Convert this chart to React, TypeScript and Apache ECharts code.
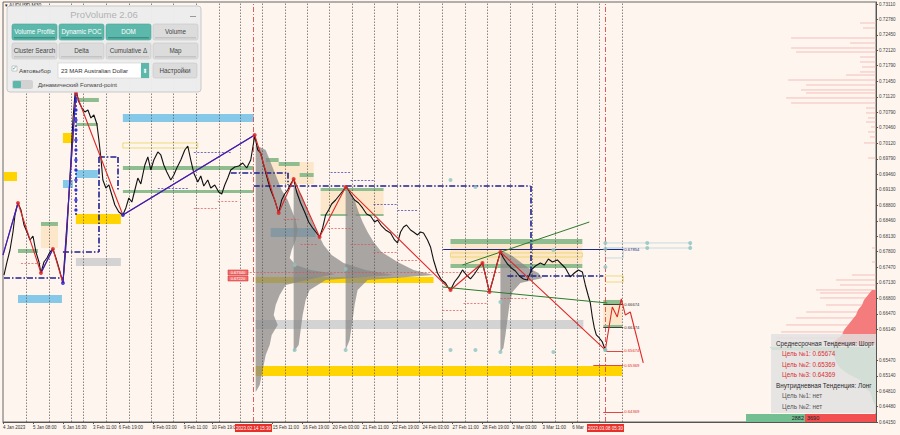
import { useEffect, useRef } from "react";
import * as echarts from "echarts";

const BG = "#fdf5ee";
const X_END = 876;

// price scale (right axis)
const yTicks = [0.7311, 0.7278, 0.7245, 0.7212, 0.7179, 0.7145, 0.7112, 0.7079, 0.7046, 0.7012, 0.6979, 0.6946, 0.6913, 0.688, 0.6846, 0.6813, 0.678, 0.6747, 0.6713, 0.668, 0.6647, 0.6614, 0.6547, 0.6514, 0.6481, 0.6448, 0.6415];

// time scale (bar positions -> labels)
const xTickPos = [2, 32, 62, 92, 118, 152, 183, 211, 272, 302, 332, 362, 392, 422, 452, 482, 512, 542, 572];
const xTickLabels = ["4 Jan 2023", "5 Jan 08:00", "6 Jan 16:30", "3 Feb 11:00", "6 Feb 19:00", "8 Feb 03:00", "9 Feb 11:00", "10 Feb 19:00", "15 Feb 11:00", "16 Feb 19:00", "20 Feb 03:00", "21 Feb 11:00", "22 Feb 19:00", "24 Feb 03:00", "27 Feb 11:00", "28 Feb 19:00", "2 Mar 03:00", "3 Mar 11:00", "6 Mar"];
const sessionX = [25, 48, 70, 82, 105, 128, 150, 172, 195, 218, 240, 262, 285, 307, 329, 352, 374, 397, 419, 442, 465, 487, 510, 532, 555, 577, 599, 622];
const markerX = [253, 605];
const markerLabels = ["2023.02.14 15:30", "2023.03.08 05:30"];
const lastPrice = 0.65768;

// AUDUSD closes
const barX = [
  3, 6, 9, 12, 14, 17, 20, 23, 26, 29,
  32, 35, 38, 40, 43, 46, 49, 52, 55, 58,
  62, 64, 66, 68, 70, 72, 74, 75, 78, 81,
  84, 87, 90, 93, 96, 98, 100, 102, 105, 108,
  111, 114, 118, 122, 125, 128, 131, 134, 137, 140,
  144, 147, 150, 153, 157, 160, 163, 166, 170, 173,
  176, 180, 184, 187, 190, 193, 197, 200, 203, 207,
  210, 214, 218, 221, 224, 227, 230, 234, 238, 242,
  246, 250, 254, 257, 260, 263, 267, 270, 274, 278,
  281, 284, 287, 290, 293, 296, 300, 304, 308, 312,
  316, 319, 322, 325, 328, 331, 335, 339, 343, 346,
  350, 354, 358, 362, 366, 370, 374, 377, 381, 385,
  390, 394, 397, 400, 403, 406, 410, 413, 417, 420,
  423, 427, 430, 433, 437, 441, 445, 448, 450, 454,
  458, 462, 466, 470, 474, 478, 482, 485, 489, 493,
  497, 500, 503, 507, 511, 515, 519, 523, 527, 531,
  535, 540, 544, 548, 552, 557, 561, 565, 570, 574,
  578, 582, 585, 588, 590, 592, 594, 596, 599, 602,
  605,
];
const closes = [
  0.67301, 0.6758, 0.67837, 0.68223, 0.68588, 0.68845, 0.68695, 0.68373, 0.68223, 0.68052,
  0.68137, 0.67794, 0.6758, 0.67344, 0.6758, 0.67666, 0.67794, 0.67859, 0.67666, 0.67451,
  0.6713, 0.67623, 0.68223, 0.69016, 0.69766, 0.70624, 0.7116, 0.71267, 0.7101, 0.70881,
  0.70795, 0.70838, 0.70667, 0.70731, 0.70538, 0.70195, 0.69809, 0.69338, 0.69166, 0.69231,
  0.69016, 0.68802, 0.68652, 0.68588, 0.68738, 0.68952, 0.68866, 0.69123, 0.6938, 0.69252,
  0.69659, 0.69831, 0.69552, 0.69766, 0.69938, 0.69874, 0.69659, 0.69509, 0.69338, 0.69445,
  0.69595, 0.69766, 0.69981, 0.70066, 0.69766, 0.69488, 0.69295, 0.69423, 0.69209, 0.69338,
  0.69166, 0.69231, 0.6908, 0.69038, 0.69231, 0.6938, 0.69552, 0.69616, 0.69638, 0.69702,
  0.69595, 0.69766, 0.70281, 0.69981, 0.69916, 0.69659, 0.69338, 0.69123, 0.68909, 0.68631,
  0.68909, 0.69038, 0.69123, 0.69252, 0.69359, 0.6908, 0.68845, 0.68652, 0.68437, 0.68309,
  0.68202, 0.68116, 0.68309, 0.68588, 0.68695, 0.68823, 0.68909, 0.69016, 0.69123, 0.69188,
  0.69038, 0.68909, 0.68845, 0.68738, 0.68609, 0.68566, 0.68437, 0.6848, 0.68352, 0.68266,
  0.68202, 0.68052, 0.67988, 0.68223, 0.6833, 0.68373, 0.68266, 0.68223, 0.68159, 0.68223,
  0.68202, 0.68052, 0.67902, 0.67623, 0.67344, 0.67194, 0.6713, 0.67023, 0.6698, 0.67151,
  0.67259, 0.67409, 0.67301, 0.67216, 0.67323, 0.67451, 0.67559, 0.67301, 0.66937, 0.67237,
  0.6758, 0.67794, 0.67666, 0.67537, 0.67451, 0.67387, 0.6728, 0.67216, 0.67194, 0.67409,
  0.67494, 0.67559, 0.67516, 0.67644, 0.6758, 0.67623, 0.67537, 0.67451, 0.67259, 0.67344,
  0.67409, 0.67366, 0.67087, 0.66851, 0.66701, 0.66401, 0.66166, 0.66016, 0.65951, 0.65866,
  0.65694,
];

// zigzag pivots
const zzX = [2, 17, 40, 52, 62, 75, 122, 254, 278, 293, 319, 345, 450, 482, 489, 500, 605];
const zzP = [0.6773, 0.68845, 0.67344, 0.67859, 0.6713, 0.71203, 0.68588, 0.70302, 0.68631, 0.69359, 0.68116, 0.69188, 0.6698, 0.67559, 0.66937, 0.67794, 0.65694];
const blueLegs = [0, 2, 4, 6];
// forward projection
const fcX = [605, 612, 617, 621, 625, 630, 643];
const fcP = [0.65694, 0.66615, 0.66401, 0.66787, 0.66444, 0.66508, 0.65415];
// channel lines
const channelLow = [[442, 0.67044], [607, 0.66701]];
const channelHigh = [[462, 0.67516], [589, 0.68437]];
const blueColumn = [0.71053, 0.70838, 0.70624, 0.70409, 0.70195, 0.69981, 0.69766, 0.69552, 0.69338, 0.69123, 0.68909, 0.68695];
const tealDots = [[294, 0.67516], [345, 0.6743], [294, 0.65694], [345, 0.65694], [450, 0.65694], [475, 0.65694], [500, 0.66723], [500, 0.65651], [553, 0.67837], [553, 0.65651], [450, 0.69338], [475, 0.69188], [605, 0.67988], [605, 0.67859], [605, 0.67473], [605, 0.65694], [647, 0.67988], [647, 0.6788], [690, 0.67988], [690, 0.6788]];

// zones [x1, x2, top, bottom]
const yellowZones = [[3, 16, 0.69509, 0.69316], [62, 73, 0.70345, 0.70131], [75, 120, 0.68609, 0.68395], [255, 433, 0.67259, 0.6713], [255, 622, 0.65351, 0.65136]];
const blueZones = [[122, 253, 0.70752, 0.70581], [17, 61, 0.66873, 0.66701], [62, 72, 0.69338, 0.69166], [75, 97, 0.69552, 0.6938], [270, 315, 0.68309, 0.68116]];
const greenZones = [[77, 98, 0.71096, 0.7101], [75, 97, 0.7056, 0.70495], [40, 57, 0.68437, 0.68352], [17, 37, 0.67859, 0.67773], [122, 253, 0.69638, 0.69552], [122, 253, 0.69123, 0.69059], [265, 278, 0.69809, 0.69723], [278, 299, 0.69723, 0.69638], [299, 313, 0.69488, 0.69402], [320, 383, 0.69166, 0.69102], [320, 347, 0.68609, 0.68566], [355, 383, 0.68609, 0.68566], [450, 582, 0.68073, 0.67966], [450, 582, 0.67537, 0.67451], [603, 622, 0.66766, 0.66658], [603, 622, 0.6623, 0.66166]];
const beigeZones = [[450, 582, 0.67966, 0.67537], [603, 622, 0.66658, 0.6623], [265, 313, 0.69723, 0.69252], [320, 383, 0.69102, 0.68566], [40, 57, 0.68352, 0.6788]];
const grayZones = [[75, 120, 0.67666, 0.67494], [255, 583, 0.66337, 0.66144]];
const yellowBoxes = [[122, 197, 0.70131, 0.70024], [450, 582, 0.67773, 0.67687], [605, 623, 0.6728, 0.67151]];
const paleBoxes = [[605, 623, 0.6788, 0.67666], [605, 690, 0.67988, 0.6788]];

// levels
const navySegs = [[253, 0.69209, 530, 0.69209], [530, 0.69209, 530, 0.67301], [507, 0.6728, 603, 0.6728], [98, 0.69831, 98, 0.67794], [62, 0.67794, 98, 0.67794], [98, 0.69831, 117, 0.69831], [117, 0.69831, 117, 0.69123], [3, 0.67237, 62, 0.67237], [230, 0.69495, 287, 0.69495], [287, 0.69495, 287, 0.69231]];
const redLevels = [[193, 217, 0.68738], [217, 238, 0.68888], [20, 40, 0.67559], [283, 298, 0.68502], [300, 317, 0.67966], [327, 350, 0.68309], [350, 373, 0.67966], [373, 397, 0.67794], [397, 417, 0.67623], [442, 463, 0.66551], [463, 487, 0.66701], [500, 527, 0.66809], [228, 500, 0.67366]];
const blueLevels = [[330, 350, 0.69509], [350, 373, 0.69338], [373, 397, 0.68823], [397, 417, 0.68695], [442, 463, 0.67859], [193, 230, 0.69938], [157, 187, 0.69166]];
const targetLevels = [[443, 623, 0.67854], [603, 623, 0.66674], [603, 623, 0.66174], [605, 623, 0.65674], [593, 623, 0.65369], [603, 623, 0.64369]];
const targetColors = ["#1c2a80", "#333", "#333", "#e03030", "#e03030", "#e03030"];

// volume profiles [price, width]
const profiles = [
  { x0: 255, levels: [[0.70088, 0], [0.69981, 10], [0.69766, 14], [0.69552, 18], [0.69338, 22], [0.69123, 26], [0.68909, 32], [0.68695, 36], [0.6848, 40], [0.68266, 42], [0.68052, 40], [0.67837, 36], [0.67666, 34], [0.67516, 40], [0.67409, 55], [0.67323, 80], [0.67237, 60], [0.67087, 30], [0.66873, 24], [0.66658, 20], [0.66444, 18], [0.6623, 22], [0.66016, 16], [0.65801, 14], [0.65587, 10], [0.65372, 8], [0.65158, 6], [0.64943, 4], [0.64793, 0]] },
  { x0: 293, levels: [[0.69231, 0], [0.69016, 8], [0.68802, 12], [0.68588, 16], [0.68373, 20], [0.68159, 25], [0.67944, 30], [0.6773, 38], [0.67559, 50], [0.67409, 72], [0.67301, 100], [0.67194, 32], [0.6698, 16], [0.66766, 12], [0.66444, 9], [0.66123, 7], [0.65801, 5], [0.65651, 0]] },
  { x0: 345, levels: [[0.69166, 0], [0.68909, 9], [0.68652, 13], [0.68437, 17], [0.68223, 22], [0.68009, 28], [0.67794, 36], [0.6758, 52], [0.67409, 68], [0.67301, 88], [0.67194, 22], [0.6698, 12], [0.66658, 9], [0.66337, 7], [0.65908, 4], [0.65694, 0]] },
  { x0: 500, levels: [[0.67837, 0], [0.67709, 12], [0.6758, 20], [0.67451, 28], [0.67344, 38], [0.67237, 42], [0.6713, 20], [0.66937, 12], [0.66658, 9], [0.66337, 7], [0.66016, 5], [0.65737, 3], [0.65651, 0]] },
];

// order book on the right [price, width]
const pinkLines = [[0.72703, 16], [0.72596, 13], [0.72381, 85], [0.72274, 26], [0.72167, 85], [0.72081, 80], [0.71974, 16], [0.71867, 16], [0.7176, 14], [0.71653, 16], [0.71588, 30], [0.71481, 88], [0.71374, 70], [0.71267, 75], [0.71203, 70], [0.71096, 90], [0.70988, 85], [0.70881, 10], [0.70774, 10], [0.70667, 8], [0.70581, 10], [0.70474, 5], [0.70367, 8], [0.7026, 6], [0.70131, 12], [0.69809, 8], [0.6788, 4], [0.6758, 4], [0.67301, 24], [0.67194, 40], [0.67087, 36], [0.6698, 60], [0.66916, 56], [0.66809, 56], [0.66658, 50], [0.66508, 70], [0.6638, 80], [0.6623, 90], [0.6608, 95], [0.65951, 100]];
const redDepth = [[0.6698, 4], [0.66873, 8], [0.66766, 12], [0.66658, 14], [0.66551, 18], [0.66444, 20], [0.66337, 24], [0.6623, 28], [0.66123, 32], [0.66016, 34], [0.65908, 40], [0.65801, 50]];
const greenDepth = [[0.65758, 106], [0.65694, 104], [0.65672, 45], [0.65565, 42], [0.65437, 40], [0.65308, 36], [0.65179, 28], [0.6505, 16], [0.64922, 14], [0.64793, 6], [0.64665, 4], [0.64536, 2]];
const buyVolume = 2882;
const sellVolume = 3690;

const row1 = ["Volume Profile", "Dynamic POC", "DOM", "Volume"];
const row2 = ["Cluster Search", "Delta", "Cumulative Δ", "Map"];
const activeButtons = ["Volume Profile", "Dynamic POC", "DOM"];

const infoLines = [
  { t: "Среднесрочная Тенденция: Шорт", c: "#2a2a2a", indent: 0 },
  { t: "Цель №1: 0.65674", c: "#d83030", indent: 6 },
  { t: "Цель №2: 0.65369", c: "#d83030", indent: 6 },
  { t: "Цель №3: 0.64369", c: "#d83030", indent: 6 },
  { t: "Внутридневная Тенденция: Лонг", c: "#2a2a2a", indent: 0 },
  { t: "Цель №1: нет", c: "#555", indent: 6 },
  { t: "Цель №2: нет", c: "#555", indent: 6 },
];

const FONT = "Liberation Sans";

function area(z: number[][], style: any) {
  return z.map(([x1, x2, p1, p2]) => [{ coord: [x1, p1], itemStyle: style }, { coord: [x2, p2] }]);
}

function polyFrom(api: any, levels: number[][], toX: (w: number) => number, baseX: number) {
  const pts = [api.coord([baseX, levels[0][0]])];
  levels.forEach(([p, w]) => pts.push(api.coord([toX(w), p])));
  pts.push(api.coord([baseX, levels[levels.length - 1][0]]));
  return pts;
}

function panelGraphics() {
  const els: any[] = [];
  els.push({ type: "rect", shape: { x: 7, y: 6, width: 194, height: 86, r: 3 }, style: { fill: "rgba(236,236,236,0.97)", stroke: "#c9c9c9", lineWidth: 1 } });
  els.push({ type: "text", x: 104, y: 14, style: { text: "ProVolume 2.06", fill: "#b2b2b2", fontSize: 9.5, fontFamily: FONT, align: "center", verticalAlign: "middle" } });
  els.push({ type: "rect", shape: { x: 190, y: 16, width: 6, height: 1 }, style: { fill: "#999" } });
  const bx = [12, 59, 106, 153];
  [row1, row2].forEach((row, r) => {
    const y = r === 0 ? 24 : 43;
    row.forEach((name, i) => {
      const active = activeButtons.includes(name);
      els.push({ type: "rect", shape: { x: bx[i], y, width: 45, height: 16, r: 2 }, style: { fill: active ? "#5cb8ab" : "#dcdcdc", stroke: active ? "#4aa598" : "#c6c6c6", lineWidth: 0.6 } });
      els.push({ type: "rect", shape: { x: bx[i] + 2, y: y + 13, width: 41, height: 1.6 }, style: { fill: active ? "#3f8f84" : "#c4c4c4" } });
      els.push({ type: "text", x: bx[i] + 22.5, y: y + 7, style: { text: name, fill: active ? "#fff" : "#444", fontSize: 6.3, fontFamily: FONT, align: "center", verticalAlign: "middle" } });
    });
  });
  els.push({ type: "rect", shape: { x: 12, y: 66, width: 5, height: 5 }, style: { fill: "#fff", stroke: "#999", lineWidth: 0.5 } });
  els.push({ type: "text", x: 12, y: 67, style: { text: "✓", fill: "#3a8", fontSize: 6, fontFamily: "DejaVu Sans", verticalAlign: "middle" } });
  els.push({ type: "text", x: 19, y: 70, style: { text: "Автовыбор", fill: "#444", fontSize: 6.2, fontFamily: FONT, verticalAlign: "middle" } });
  els.push({ type: "rect", shape: { x: 58, y: 63, width: 91, height: 15 }, style: { fill: "#fff", stroke: "#ccc", lineWidth: 0.6 } });
  els.push({ type: "text", x: 61, y: 70.5, style: { text: "23 MAR Australian Dollar", fill: "#333", fontSize: 6, fontFamily: FONT, verticalAlign: "middle" } });
  els.push({ type: "rect", shape: { x: 141, y: 63, width: 8, height: 15 }, style: { fill: "#5cb8ab" } });
  els.push({ type: "text", x: 145, y: 70.5, style: { text: "⬍", fill: "#fff", fontSize: 6, fontFamily: "DejaVu Sans", align: "center", verticalAlign: "middle" } });
  els.push({ type: "rect", shape: { x: 153, y: 63, width: 44, height: 15, r: 2 }, style: { fill: "#dcdcdc", stroke: "#c6c6c6", lineWidth: 0.6 } });
  els.push({ type: "text", x: 175, y: 70.5, style: { text: "Настройки", fill: "#444", fontSize: 6.3, fontFamily: FONT, align: "center", verticalAlign: "middle" } });
  els.push({ type: "rect", shape: { x: 12, y: 80, width: 21, height: 9, r: 2 }, style: { fill: "#d2d2d2" } });
  els.push({ type: "rect", shape: { x: 13, y: 81, width: 8, height: 7, r: 1 }, style: { fill: "#5cb8ab" } });
  els.push({ type: "text", x: 38, y: 85, style: { text: "Динамический Forward-point", fill: "#444", fontSize: 6, fontFamily: FONT, verticalAlign: "middle" } });
  return els;
}

function infoGraphics() {
  const els: any[] = [];
  els.push({ type: "rect", shape: { x: 771, y: 334, width: 105, height: 79 }, style: { fill: "rgba(226,226,226,0.82)" } });
  infoLines.forEach((l, i) => {
    els.push({ type: "text", x: 776 + l.indent, y: 343 + i * 10.5, style: { text: l.t, fill: l.c, fontSize: 6.3, fontFamily: FONT, verticalAlign: "middle" } });
  });
  els.push({ type: "rect", shape: { x: 746, y: 414, width: 59, height: 8 }, style: { fill: "#74bf92" } });
  els.push({ type: "rect", shape: { x: 805, y: 414, width: 71, height: 8 }, style: { fill: "#f25050" } });
  els.push({ type: "text", x: 804, y: 418, style: { text: String(buyVolume), fill: "#222", fontSize: 5.5, fontFamily: FONT, align: "right", verticalAlign: "middle" } });
  els.push({ type: "text", x: 807, y: 418, style: { text: String(sellVolume), fill: "#222", fontSize: 5.5, fontFamily: FONT, verticalAlign: "middle" } });
  return els;
}

function axisMarkers() {
  const els: any[] = [];
  markerX.forEach((x, i) => {
    els.push({ type: "rect", shape: { x: x - 18, y: 424, width: 37, height: 8 }, style: { fill: "#e8302a" } });
    els.push({ type: "text", x: x + 0.5, y: 428, style: { text: markerLabels[i], fill: "#fff", fontSize: 4.5, fontFamily: FONT, align: "center", verticalAlign: "middle" } });
  });
  ["0.67340", "0.67220"].forEach((t, i) => {
    els.push({ type: "rect", shape: { x: 228, y: 270 + i * 6, width: 20, height: 5 }, style: { fill: "#f07070", stroke: "#d02020", lineWidth: 0.5 } });
    els.push({ type: "text", x: 238, y: 272.5 + i * 6, style: { text: t, fill: "#fff", fontSize: 4, fontFamily: FONT, align: "center", verticalAlign: "middle" } });
  });
  els.push({ type: "text", x: 5, y: 5, style: { text: "▾ AUDUSD,M30", fill: "#222", fontSize: 5, fontFamily: FONT, verticalAlign: "middle" } });
  return els;
}

export default function App() {
  const ref = useRef<HTMLDivElement>(null);

  useEffect(() => {
    if (!ref.current) return;
    const chart = echarts.init(ref.current, null, { renderer: "svg" });
    const price = barX.map((x, i) => [x, closes[i]]);
    const zz = zzX.map((x, i) => [x, zzP[i]]);
    const fc = fcX.map((x, i) => [x, fcP[i]]);
    const dashDot = [6, 2, 1.5, 2];

    const option: any = {
      animation: false,
      backgroundColor: BG,
      grid: { left: 2, right: 900 - X_END, top: 2, bottom: 13, show: true, borderColor: "#666", borderWidth: 1 },
      xAxis: {
        type: "value", min: 2, max: X_END,
        axisLine: { lineStyle: { color: "#555" } },
        splitLine: { show: false },
        axisTick: { customValues: xTickPos, length: 2, lineStyle: { color: "#555" } },
        axisLabel: {
          customValues: xTickPos, fontSize: 4.5, fontFamily: FONT, color: "#333", align: "left", margin: 3,
          formatter: (v: number) => xTickLabels[xTickPos.indexOf(v)] ?? "",
        },
      },
      yAxis: {
        type: "value", position: "right", min: 0.6415, max: 0.73153,
        axisLine: { show: true, lineStyle: { color: "#555" } },
        splitLine: { show: false },
        axisTick: { show: true, customValues: yTicks, length: 2, lineStyle: { color: "#555" } },
        axisLabel: { customValues: yTicks, fontSize: 4.6, fontFamily: FONT, color: "#444", margin: 3, formatter: (v: number) => v.toFixed(5) },
      },
      series: [
        {
          type: "line", data: [[2, 0.7]], showSymbol: false, silent: true, z: 1, lineStyle: { opacity: 0 },
          markArea: {
            silent: true,
            data: [
              ...area(beigeZones, { color: "rgba(251,226,190,0.75)" }),
              ...area(grayZones, { color: "#d3d3d3" }),
              ...area(blueZones, { color: "#86c8e8" }),
              ...area(greenZones, { color: "#8fbd8f" }),
              ...area(yellowZones, { color: "#ffd400" }),
              ...area(yellowBoxes, { color: "rgba(0,0,0,0)", borderColor: "#ecd25a", borderWidth: 0.8 }),
              ...area(paleBoxes, { color: "rgba(0,0,0,0)", borderColor: "#b9d4dc", borderWidth: 0.8 }),
            ],
          },
          markLine: {
            silent: true, symbol: "none", label: { show: false },
            data: [
              ...sessionX.map((x) => ({ xAxis: x, lineStyle: { color: "#555", type: [1.5, 1.5], width: 0.7 } })),
              ...markerX.map((x) => ({ xAxis: x, lineStyle: { color: "#e04848", type: [5, 2, 1, 2], width: 0.9 } })),
            ],
          },
        },
        {
          type: "custom", z: 2, silent: true,
          data: profiles.map((p) => [p.x0, p.levels[0][0]]),
          renderItem: (params: any, api: any) => {
            const pr = profiles[params.dataIndex];
            return { type: "polygon", shape: { points: polyFrom(api, pr.levels, (w) => pr.x0 + w, pr.x0) }, style: { fill: "rgba(135,135,135,0.72)" } };
          },
        },
        {
          type: "custom", z: 2, silent: true,
          data: pinkLines.map(([p, w]) => [X_END - w, p]),
          renderItem: (params: any, api: any) => {
            const a = api.coord([api.value(0), api.value(1)]);
            const b = api.coord([X_END, api.value(1)]);
            return { type: "line", shape: { x1: a[0], y1: a[1], x2: b[0], y2: b[1] }, style: { stroke: "#f3b0b0", lineWidth: 0.8 } };
          },
        },
        {
          type: "custom", z: 2, silent: true,
          data: [[X_END, redDepth[0][0]], [X_END, greenDepth[0][0]]],
          renderItem: (params: any, api: any) => {
            const lv = params.dataIndex === 0 ? redDepth : greenDepth;
            return { type: "polygon", shape: { points: polyFrom(api, lv, (w) => X_END - w, X_END) }, style: { fill: params.dataIndex === 0 ? "#f47c7c" : "#8fcca6" } };
          },
        },
        {
          type: "line", data: [[2, 0.7]], showSymbol: false, silent: true, z: 3, lineStyle: { opacity: 0 },
          markLine: {
            silent: true, symbol: "none", label: { show: false },
            data: [
              ...navySegs.map(([x1, p1, x2, p2]) => [{ coord: [x1, p1], lineStyle: { color: "#1f1f8e", width: 1.6, type: dashDot } }, { coord: [x2, p2] }]),
              ...redLevels.map(([x1, x2, p]) => [{ coord: [x1, p], lineStyle: { color: "#e05050", width: 0.7, type: [2, 1.5] } }, { coord: [x2, p] }]),
              ...blueLevels.map(([x1, x2, p]) => [{ coord: [x1, p], lineStyle: { color: "#3030b0", width: 0.7, type: [2, 1.5] } }, { coord: [x2, p] }]),
              [{ coord: [75, 0.71203], lineStyle: { color: "#2020c0", width: 1.5, type: [2, 2] } }, { coord: [75, 0.68566] }],
              ...targetLevels.map(([x1, x2, p], i) => [
                {
                  coord: [x1, p],
                  lineStyle: { color: targetColors[i], width: i === 0 ? 1.2 : 0.9, type: "solid" },
                  label: { show: true, position: "end", formatter: p.toFixed(5), color: targetColors[i], fontSize: 4.2, fontFamily: FONT, distance: 1 },
                },
                { coord: [x2, p] },
              ]),
              [
                { yAxis: lastPrice, lineStyle: { color: "#9a9a9a", width: 0.6, type: "solid" },
                  label: { show: true, position: "end", formatter: lastPrice.toFixed(5), color: "#fff", backgroundColor: "#111", padding: [1, 1.5], fontSize: 4.6, fontFamily: FONT, distance: 1 } },
                { yAxis: lastPrice, x: X_END },
              ],
            ],
          },
        },
        { type: "line", data: price, showSymbol: false, silent: true, z: 5, lineStyle: { color: "#111", width: 1.1 } },
        { type: "line", data: zz, showSymbol: false, silent: true, z: 6, lineStyle: { color: "#e02828", width: 1.1 } },
        ...blueLegs.map((i) => ({ type: "line", data: [zz[i], zz[i + 1]], showSymbol: false, silent: true, z: 7, lineStyle: { color: "#2424d0", width: 1.1 } })),
        { type: "line", data: fc, showSymbol: false, silent: true, z: 6, lineStyle: { color: "#e02828", width: 1.1 } },
        { type: "line", data: channelLow, showSymbol: false, silent: true, z: 6, lineStyle: { color: "#2c7a2c", width: 1 } },
        { type: "line", data: channelHigh, showSymbol: false, silent: true, z: 6, lineStyle: { color: "#2c7a2c", width: 1 } },
        {
          type: "scatter", silent: true, z: 8, symbolSize: 4,
          data: zz.slice(1),
          itemStyle: { color: (p: any) => (p.dataIndex === 3 || p.dataIndex === 5 ? "#2424d0" : p.dataIndex === zz.length - 2 ? "#7fb8b0" : "#e02020") },
        },
        { type: "scatter", silent: true, z: 8, symbolSize: 3.5, data: blueColumn.map((p) => [75, p]), itemStyle: { color: "#2424d0" } },
        { type: "scatter", silent: true, z: 8, symbolSize: 4, data: tealDots, itemStyle: { color: "#8fc4c0" } },
      ],
      graphic: [
        ...axisMarkers().map((e) => ({ ...e, z: 50 })),
        ...infoGraphics().map((e) => ({ ...e, z: 60 })),
        ...panelGraphics().map((e) => ({ ...e, z: 70 })),
      ],
    };

    chart.setOption(option);
    return () => chart.dispose();
  }, []);

  return <div ref={ref} style={{ position: "fixed", left: 0, top: 0, width: 900, height: 435, background: BG }} />;
}
